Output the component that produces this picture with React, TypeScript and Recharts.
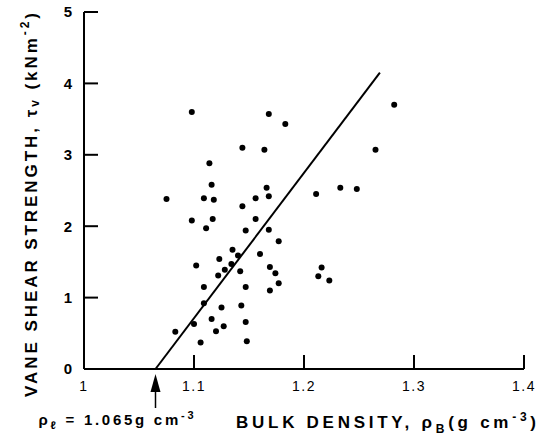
import React from "react";
import { ScatterChart, Scatter, XAxis, YAxis, ReferenceDot } from "recharts";

// bulk density (g cm-3) and vane shear strength (kN m-2) of each sample
const densityX = [
  1.098, 1.168, 1.183, 1.144, 1.164, 1.114, 1.116, 1.166, 1.211, 1.233, 1.248,
  1.075, 1.109, 1.118, 1.144, 1.156, 1.168, 1.098, 1.117, 1.111, 1.156, 1.147,
  1.168, 1.177, 1.135, 1.14, 1.16, 1.123, 1.102, 1.134, 1.128, 1.122, 1.142,
  1.169, 1.174, 1.177, 1.169, 1.147, 1.109, 1.213, 1.216, 1.223, 1.109, 1.125,
  1.143, 1.1, 1.116, 1.147, 1.127, 1.12, 1.083, 1.106, 1.148, 1.282, 1.265,
];
const strengthY = [
  3.6, 3.57, 3.43, 3.1, 3.07, 2.88, 2.58, 2.54, 2.45, 2.54, 2.52,
  2.38, 2.39, 2.37, 2.28, 2.39, 2.42, 2.08, 2.1, 1.97, 2.1, 1.94,
  1.95, 1.79, 1.67, 1.59, 1.61, 1.54, 1.45, 1.47, 1.39, 1.31, 1.37,
  1.43, 1.34, 1.2, 1.1, 1.15, 1.15, 1.3, 1.42, 1.24, 0.92, 0.86,
  0.89, 0.63, 0.7, 0.66, 0.6, 0.53, 0.52, 0.37, 0.39, 3.7, 3.07,
];

// fitted line, meets the axis at the liquid limit density
const fitX = [1.065, 1.269];
const fitY = [0, 4.15];
const liquidDensity = 1.065;

const xTicks = [1, 1.1, 1.2, 1.3, 1.4];
const yTicks = [0, 1, 2, 3, 4, 5];

const FONT = "'Liberation Sans', Arial, sans-serif";
const TICK = 14; // inward tick length

const samples = densityX.map((x, i) => ({ x, y: strengthY[i] }));
const fitLine = fitX.map((x, i) => ({ x, y: fitY[i] }));
// inward tick marks, placed through the chart scales
const xTickMarks = xTicks.map((x) => ({ x, y: 0 }));
const yTickMarks = yTicks.map((y) => ({ x: 1, y }));

const Dot = (props: any) => <circle cx={props.cx} cy={props.cy} r={3} fill="#000" />;
const UpTick = (props: any) => (
  <line x1={props.cx} y1={props.cy} x2={props.cx} y2={props.cy - TICK} stroke="#000" strokeWidth={2} />
);
const RightTick = (props: any) => (
  <line x1={props.cx} y1={props.cy} x2={props.cx + TICK} y2={props.cy} stroke="#000" strokeWidth={2} />
);

const XTick = (props: any) => {
  const { x, y, payload } = props;
  return (
    <text x={x} y={y} dy="0.71em" textAnchor="middle" fontFamily={FONT} fontSize={14} fill="#000" letterSpacing={1.5}>
      {String(payload.value)}
    </text>
  );
};

const YTick = (props: any) => {
  const { x, y, payload } = props;
  return (
    <text x={x} y={y} dy="0.36em" textAnchor="end" fontFamily={FONT} fontSize={15} fontWeight="bold" fill="#000">
      {String(payload.value)}
    </text>
  );
};

const ArrowNote = (props: any) => {
  const { cx, cy } = props;
  return (
    <g>
      <polygon points={`${cx},${cy + 5} ${cx - 5},${cy + 23} ${cx + 5},${cy + 23}`} fill="#000" />
      <line x1={cx} y1={cy + 20} x2={cx} y2={cy + 39} stroke="#000" strokeWidth={1.5} />
      <text
        x={cx - 117}
        y={cy + 56}
        fontFamily={FONT}
        fontSize={15}
        fontWeight="bold"
        fill="#000"
        textLength={155}
        lengthAdjust="spacing"
      >
        ρ<tspan fontSize={11} dy={4}>ℓ</tspan>
        <tspan dy={-4}> = 1.065g cm</tspan>
        <tspan fontSize={11} dy={-6}>-3</tspan>
      </text>
    </g>
  );
};

const XTitle = (props: any) => {
  const { x, y } = props.viewBox;
  return (
    <text
      x={x + 152}
      y={y + 59}
      fontFamily={FONT}
      fontSize={17}
      fontWeight="bold"
      fill="#000"
      textLength={300}
      lengthAdjust="spacing"
    >
      BULK DENSITY, ρ<tspan fontSize={12} dy={5}>B</tspan>
      <tspan dy={-5}>(g cm</tspan>
      <tspan fontSize={12} dy={-7}>-3</tspan>
      <tspan dy={7}>)</tspan>
    </text>
  );
};

const YTitle = () => {
  const cx = 31;
  const cy = 205;
  return (
    <text
      x={cx}
      y={cy}
      transform={`rotate(-90 ${cx} ${cy})`}
      textAnchor="middle"
      dominantBaseline="central"
      fontFamily={FONT}
      fontSize={17}
      fontWeight="bold"
      fill="#000"
      textLength={384}
      lengthAdjust="spacing"
    >
      VANE SHEAR STRENGTH, τ<tspan fontSize={12} dy={4}>v</tspan>
      <tspan dy={-4}> (kNm</tspan>
      <tspan fontSize={12} dy={-6}>-2</tspan>
      <tspan dy={6}>)</tspan>
    </text>
  );
};

export default function App() {
  return (
    <div style={{ position: "absolute", left: 0, top: 0, background: "#fff" }}>
      <ScatterChart width={545} height={444} margin={{ top: 12, right: 21, left: 24, bottom: 35 }}>
        <XAxis
          type="number"
          dataKey="x"
          domain={[1, 1.4]}
          ticks={xTicks}
          height={40}
          axisLine={{ stroke: "#000", strokeWidth: 2 }}
          tickLine={false}
          tickSize={0}
          tickMargin={12}
          tick={XTick}
          label={{ content: XTitle }}
        />
        <YAxis
          type="number"
          dataKey="y"
          domain={[0, 5]}
          ticks={yTicks}
          width={60}
          axisLine={{ stroke: "#000", strokeWidth: 2 }}
          tickLine={false}
          tickSize={0}
          tickMargin={12}
          tick={YTick}
          label={{ content: YTitle }}
        />
        <Scatter data={xTickMarks} shape={UpTick} isAnimationActive={false} />
        <Scatter data={yTickMarks} shape={RightTick} isAnimationActive={false} />
        <Scatter
          data={fitLine}
          line={{ stroke: "#000", strokeWidth: 2 }}
          shape={() => <g />}
          isAnimationActive={false}
        />
        <Scatter data={samples} shape={Dot} isAnimationActive={false} />
        <ReferenceDot x={liquidDensity} y={0} r={0} ifOverflow="visible" shape={ArrowNote} />
      </ScatterChart>
    </div>
  );
}
